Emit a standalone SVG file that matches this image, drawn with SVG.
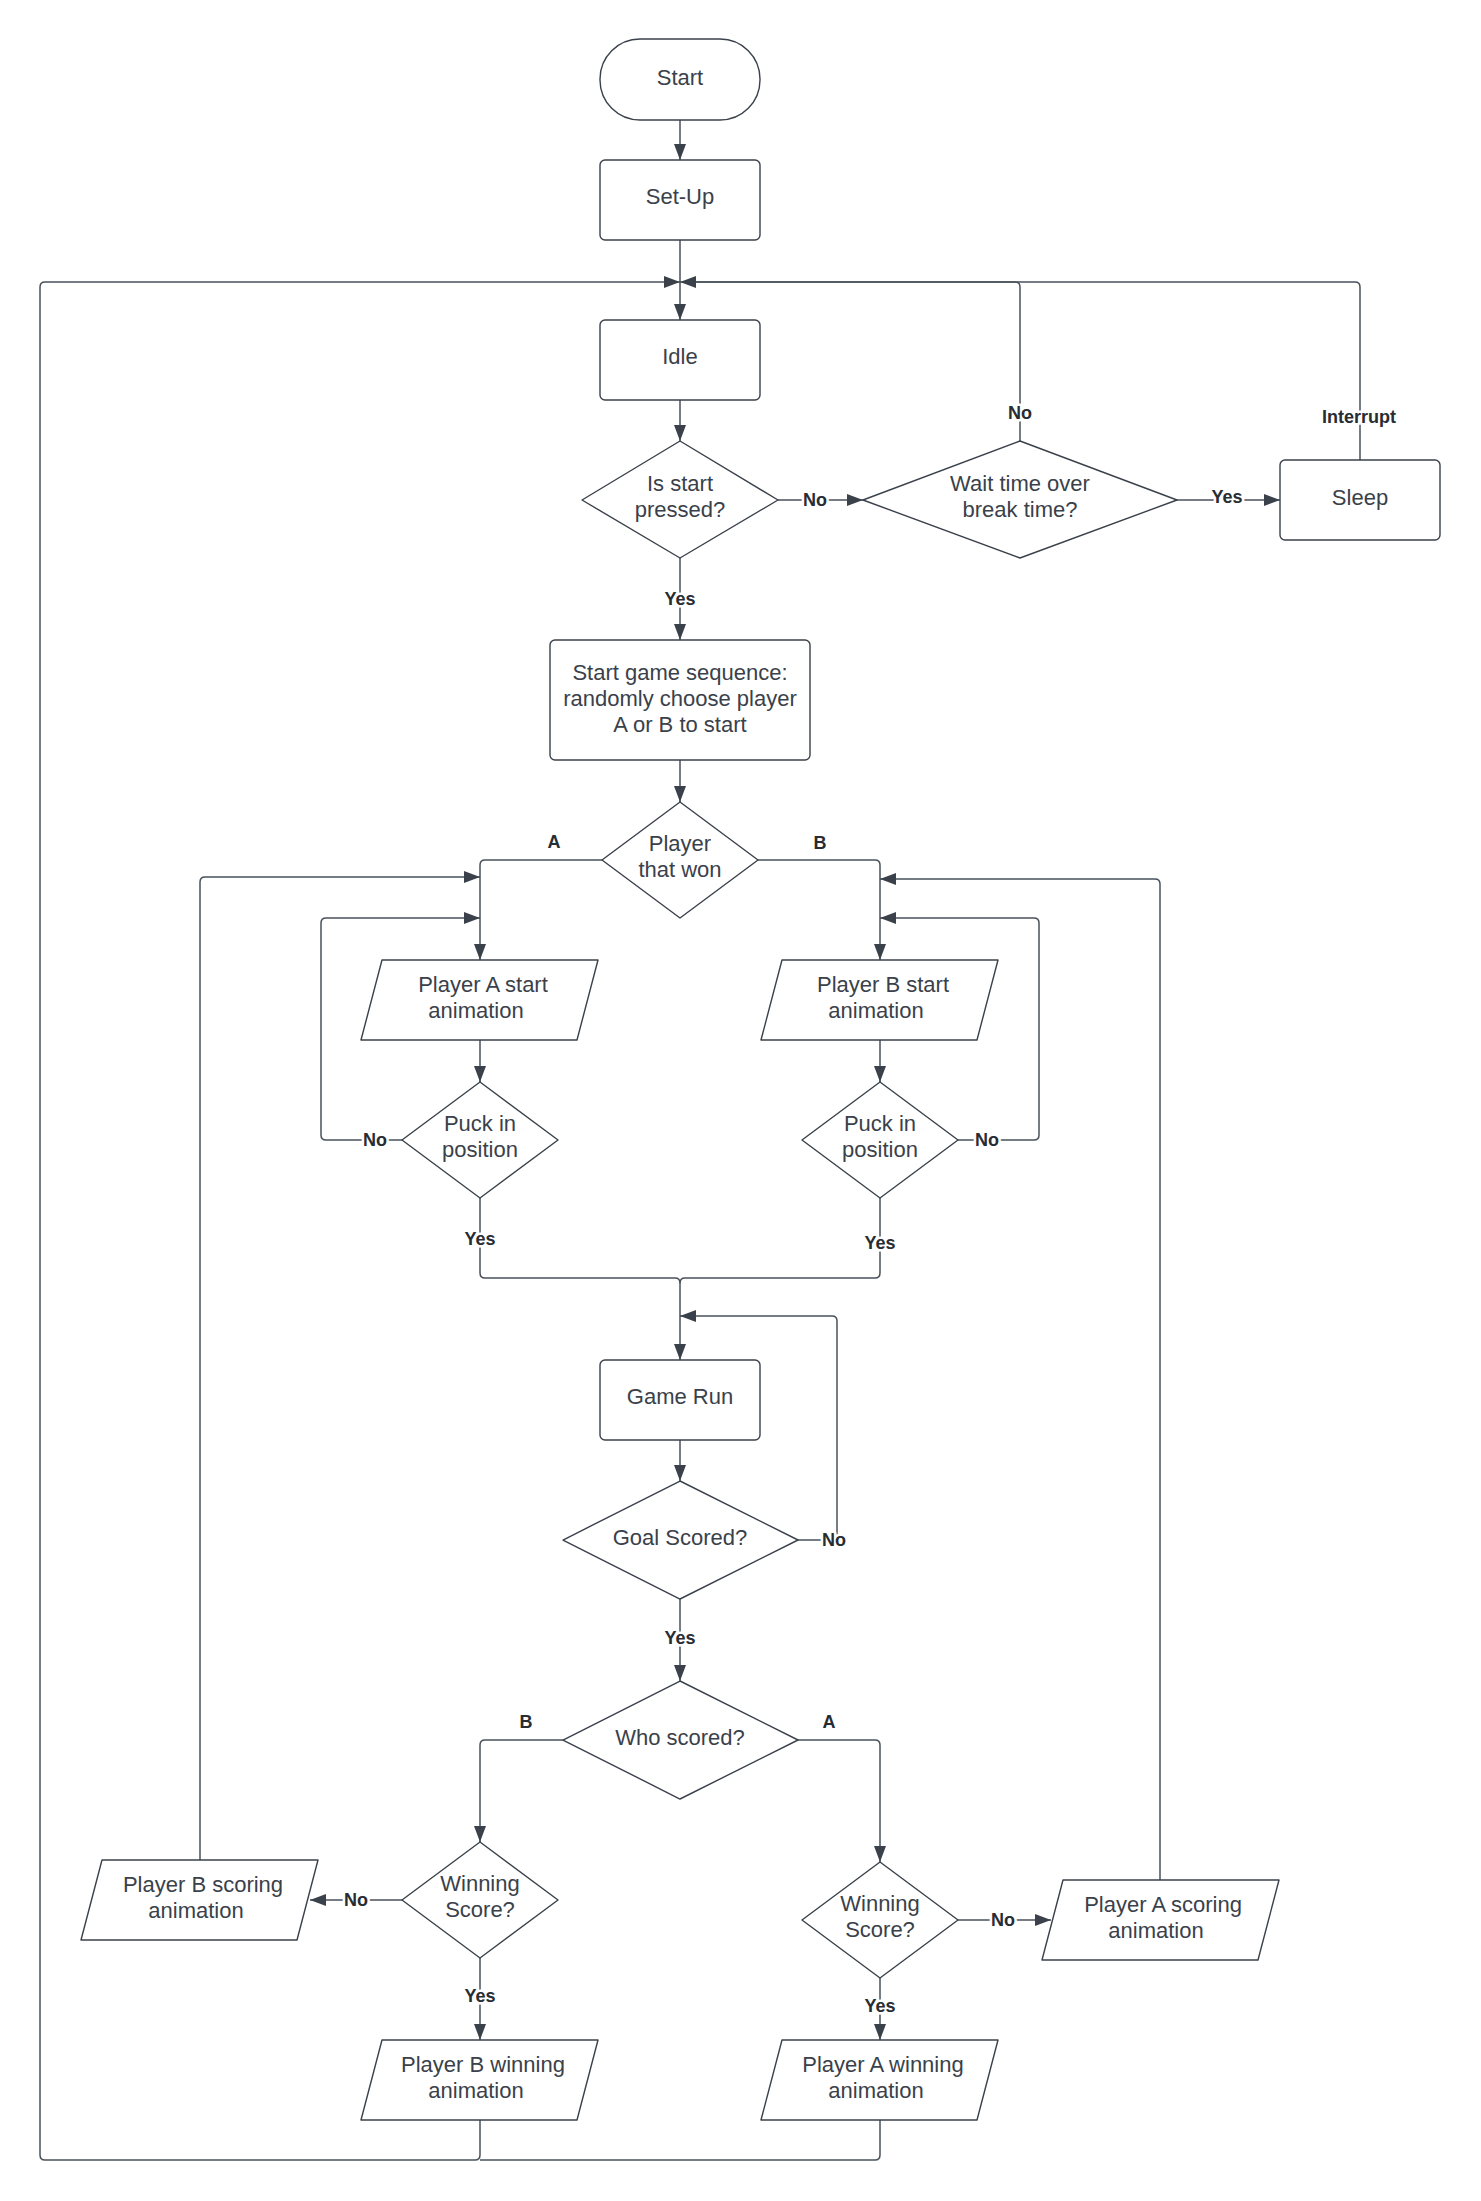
<svg xmlns="http://www.w3.org/2000/svg" width="1481" height="2201" viewBox="0 0 1481 2201">
<style>
.shape{fill:#ffffff;stroke:#3a414a;stroke-width:1.4;stroke-linejoin:round}
.t{font-family:"Liberation Sans",Arial,sans-serif;font-size:22px;fill:#3a414a;text-anchor:middle}
.lbl{font-family:"Liberation Sans",Arial,sans-serif;font-size:18px;font-weight:bold;fill:#282c33;text-anchor:middle;stroke:#ffffff;stroke-width:5px;paint-order:stroke;stroke-linejoin:round}
.c{fill:none;stroke:#4a515b;stroke-width:1.5}
</style>
<defs>
<marker id="ah" viewBox="0 0 16 12" refX="16" refY="6" markerWidth="16" markerHeight="12" markerUnits="userSpaceOnUse" orient="auto">
<path d="M0,0 L16,6 L0,12 Z" fill="#3a414a"/>
</marker>
</defs>
<rect width="1481" height="2201" fill="#ffffff"/>

<g id="connectors">
<path class="c" d="M680 120 V160" marker-end="url(#ah)"/>
<path class="c" d="M680 240 V320" marker-end="url(#ah)"/>
<path class="c" d="M680 400 V441" marker-end="url(#ah)"/>
<path class="c" d="M778 500 H863" marker-end="url(#ah)"/>
<path class="c" d="M1177 500 H1280" marker-end="url(#ah)"/>
<path class="c" d="M1360 460 V287 Q1360 282 1355 282 H690"/>
<path class="c" d="M1020 441 V287 Q1020 282 1015 282 H680" marker-end="url(#ah)"/>
<path class="c" d="M480 2120 V2155 Q480 2160 475 2160 H45 Q40 2160 40 2155 V287 Q40 282 45 282 H680" marker-end="url(#ah)"/>
<path class="c" d="M880 2120 V2155 Q880 2160 875 2160 H480"/>
<path class="c" d="M680 558 V640" marker-end="url(#ah)"/>
<path class="c" d="M680 760 V802" marker-end="url(#ah)"/>
<path class="c" d="M602 860 H485 Q480 860 480 865 V960" marker-end="url(#ah)"/>
<path class="c" d="M758 860 H875 Q880 860 880 865 V960" marker-end="url(#ah)"/>
<path class="c" d="M480 1040 V1082" marker-end="url(#ah)"/>
<path class="c" d="M880 1040 V1082" marker-end="url(#ah)"/>
<path class="c" d="M402 1140 H326 Q321 1140 321 1135 V923 Q321 918 326 918 H480" marker-end="url(#ah)"/>
<path class="c" d="M958 1140 H1034 Q1039 1140 1039 1135 V923 Q1039 918 1034 918 H880" marker-end="url(#ah)"/>
<path class="c" d="M480 1198 V1273 Q480 1278 485 1278 H675 Q680 1278 680 1283 V1360" marker-end="url(#ah)"/>
<path class="c" d="M880 1198 V1273 Q880 1278 875 1278 H685 Q680 1278 680 1283"/>
<path class="c" d="M680 1440 V1481" marker-end="url(#ah)"/>
<path class="c" d="M798 1540 H832 Q837 1540 837 1535 V1321 Q837 1316 832 1316 H680" marker-end="url(#ah)"/>
<path class="c" d="M680 1599 V1681" marker-end="url(#ah)"/>
<path class="c" d="M563 1740 H485 Q480 1740 480 1745 V1842" marker-end="url(#ah)"/>
<path class="c" d="M798 1740 H875 Q880 1740 880 1745 V1862" marker-end="url(#ah)"/>
<path class="c" d="M402 1900 H310" marker-end="url(#ah)"/>
<path class="c" d="M480 1958 V2040" marker-end="url(#ah)"/>
<path class="c" d="M958 1920 H1051" marker-end="url(#ah)"/>
<path class="c" d="M880 1978 V2040" marker-end="url(#ah)"/>
<path class="c" d="M200 1860 V882 Q200 877 205 877 H480" marker-end="url(#ah)"/>
<path class="c" d="M1160 1880 V884 Q1160 879 1155 879 H880" marker-end="url(#ah)"/>

<text class="lbl" x="815" y="506">No</text>
<text class="lbl" x="1227" y="503">Yes</text>
<text class="lbl" x="1020" y="419">No</text>
<text class="lbl" x="1359" y="423">Interrupt</text>
<text class="lbl" x="680" y="605">Yes</text>
<text class="lbl" x="554" y="848">A</text>
<text class="lbl" x="820" y="849">B</text>
<text class="lbl" x="375" y="1146">No</text>
<text class="lbl" x="987" y="1146">No</text>
<text class="lbl" x="480" y="1245">Yes</text>
<text class="lbl" x="880" y="1249">Yes</text>
<text class="lbl" x="834" y="1546">No</text>
<text class="lbl" x="680" y="1644">Yes</text>
<text class="lbl" x="526" y="1728">B</text>
<text class="lbl" x="829" y="1728">A</text>
<text class="lbl" x="356" y="1906">No</text>
<text class="lbl" x="480" y="2002">Yes</text>
<text class="lbl" x="1003" y="1926">No</text>
<text class="lbl" x="880" y="2012">Yes</text>
</g>

<g id="start">
<rect class="shape" x="600" y="39" width="160" height="81" rx="40" ry="40"/>
<text class="t" x="680" y="85">Start</text>
</g>
<g id="setup">
<rect class="shape" x="600" y="160" width="160" height="80" rx="5"/>
<text class="t" x="680" y="204">Set-Up</text>
</g>
<g id="idle">
<rect class="shape" x="600" y="320" width="160" height="80" rx="5"/>
<text class="t" x="680" y="364">Idle</text>
</g>
<g id="is-start-pressed">
<polygon class="shape" points="680,441 778,500 680,558 582,500"/>
<text class="t" x="680" y="491">Is start</text>
<text class="t" x="680" y="517">pressed?</text>
</g>
<g id="wait-time">
<polygon class="shape" points="1020,441 1177,500 1020,558 863,500"/>
<text class="t" x="1020" y="491">Wait time over</text>
<text class="t" x="1020" y="517">break time?</text>
</g>
<g id="sleep">
<rect class="shape" x="1280" y="460" width="160" height="80" rx="5"/>
<text class="t" x="1360" y="505">Sleep</text>
</g>
<g id="start-game-sequence">
<rect class="shape" x="550" y="640" width="260" height="120" rx="5"/>
<text class="t" x="680" y="680">Start game sequence:</text>
<text class="t" x="680" y="706">randomly choose player</text>
<text class="t" x="680" y="732">A or B to start</text>
</g>
<g id="player-that-won">
<polygon class="shape" points="680,802 758,860 680,918 602,860"/>
<text class="t" x="680" y="851">Player</text>
<text class="t" x="680" y="877">that won</text>
</g>
<g id="player-a-start">
<path class="shape" d="M382,960 H598 L577,1040 H361 Z"/>
<text class="t" x="483" y="992">Player A start</text>
<text class="t" x="476" y="1018">animation</text>
</g>
<g id="player-b-start">
<path class="shape" d="M782,960 H998 L977,1040 H761 Z"/>
<text class="t" x="883" y="992">Player B start</text>
<text class="t" x="876" y="1018">animation</text>
</g>
<g id="puck-a">
<polygon class="shape" points="480,1082 558,1140 480,1198 402,1140"/>
<text class="t" x="480" y="1131">Puck in</text>
<text class="t" x="480" y="1157">position</text>
</g>
<g id="puck-b">
<polygon class="shape" points="880,1082 958,1140 880,1198 802,1140"/>
<text class="t" x="880" y="1131">Puck in</text>
<text class="t" x="880" y="1157">position</text>
</g>
<g id="game-run">
<rect class="shape" x="600" y="1360" width="160" height="80" rx="5"/>
<text class="t" x="680" y="1404">Game Run</text>
</g>
<g id="goal-scored">
<polygon class="shape" points="680,1481 798,1540 680,1599 563,1540"/>
<text class="t" x="680" y="1545">Goal Scored?</text>
</g>
<g id="who-scored">
<polygon class="shape" points="680,1681 798,1740 680,1799 563,1740"/>
<text class="t" x="680" y="1745">Who scored?</text>
</g>
<g id="winning-score-b">
<polygon class="shape" points="480,1842 558,1900 480,1958 402,1900"/>
<text class="t" x="480" y="1891">Winning</text>
<text class="t" x="480" y="1917">Score?</text>
</g>
<g id="winning-score-a">
<polygon class="shape" points="880,1862 958,1920 880,1978 802,1920"/>
<text class="t" x="880" y="1911">Winning</text>
<text class="t" x="880" y="1937">Score?</text>
</g>
<g id="player-b-scoring">
<path class="shape" d="M102,1860 H318 L297,1940 H81 Z"/>
<text class="t" x="203" y="1892">Player B scoring</text>
<text class="t" x="196" y="1918">animation</text>
</g>
<g id="player-a-scoring">
<path class="shape" d="M1063,1880 H1279 L1258,1960 H1042 Z"/>
<text class="t" x="1163" y="1912">Player A scoring</text>
<text class="t" x="1156" y="1938">animation</text>
</g>
<g id="player-b-winning">
<path class="shape" d="M382,2040 H598 L577,2120 H361 Z"/>
<text class="t" x="483" y="2072">Player B winning</text>
<text class="t" x="476" y="2098">animation</text>
</g>
<g id="player-a-winning">
<path class="shape" d="M782,2040 H998 L977,2120 H761 Z"/>
<text class="t" x="883" y="2072">Player A winning</text>
<text class="t" x="876" y="2098">animation</text>
</g>
</svg>
